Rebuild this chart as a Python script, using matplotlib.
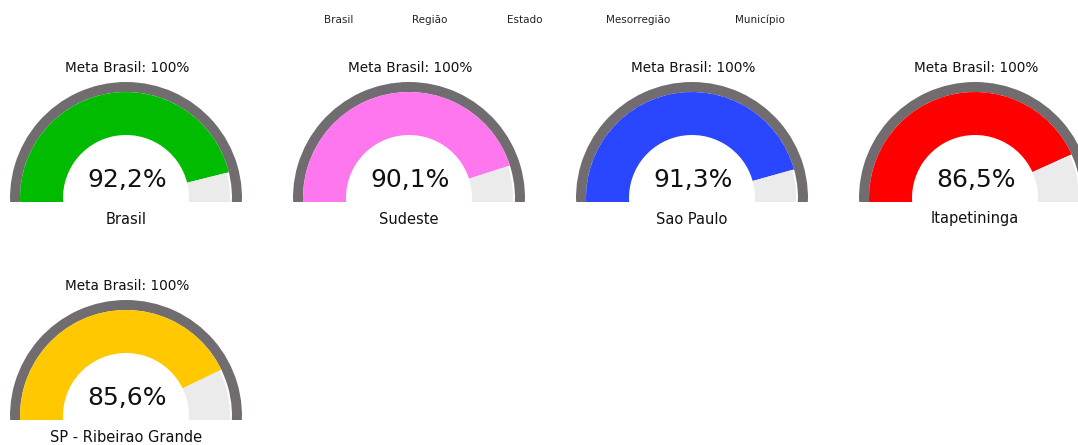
import matplotlib
matplotlib.use("Agg")
import matplotlib.pyplot as plt
from matplotlib.patches import Wedge, Rectangle

names = ["Brasil", "Sudeste", "Sao Paulo", "Itapetininga", "SP - Ribeirao Grande"]
values = [92.2, 90.1, 91.3, 86.5, 85.6]
value_labels = ["92,2%", "90,1%", "91,3%", "86,5%", "85,6%"]
colors = ["#00bb00", "#ff77ee", "#2b46ff", "#ff0000", "#ffc800"]
meta_label = "Meta Brasil: 100%"
legend_labels = ["Brasil", "Região", "Estado", "Mesorregião", "Município"]

W, H = 1078, 445
fig = plt.figure(figsize=(W / 100, H / 100), dpi=100)
ax = fig.add_axes([0, 0, 1, 1])
ax.set_xlim(0, W)
ax.set_ylim(0, H)
ax.set_aspect("equal")
ax.axis("off")

# (center x, baseline y in pixels from top)
centers = [(126, 202), (409, 202), (692, 202), (975, 202), (126, 420)]
drop = 4  # arc centre sits slightly above the baseline
R_out, R_ring, R_in = 116, 106, 63

for (cx, base_px), name, v, vl, col in zip(centers, names, values, value_labels, colors):
    base = H - base_px
    cy = base + drop
    clip = Rectangle((cx - 130, base), 260, 140, transform=ax.transData)
    ang = 180 * (1 - v / 100)
    patches = [
        Wedge((cx, cy), R_out, -8, 188, width=R_out - R_ring, facecolor="#716c70", edgecolor="none"),
        Wedge((cx, cy), R_ring, ang, 188, width=R_ring - R_in, facecolor=col, edgecolor="none"),
        Wedge((cx, cy), R_ring - 2, -8, ang, width=R_ring - 2 - R_in, facecolor="#ebebeb", edgecolor="none"),
    ]
    for p in patches:
        ax.add_patch(p)
        p.set_clip_path(clip)
    ax.text(cx + 1, base + 134, meta_label, ha="center", va="center", fontsize=9.8, color="#111111")
    ax.text(cx + 1, base + 22, vl, ha="center", va="center", fontsize=18, color="#111111")
    ax.text(cx, base - 17, name, ha="center", va="center", fontsize=10.5, color="#111111")

leg_x = [339, 430, 525, 638, 760]
for lx, lab in zip(leg_x, legend_labels):
    ax.text(lx, H - 20, lab, ha="center", va="center", fontsize=7.5, color="#222222")

fig.savefig("out.png", dpi=100, facecolor="white")
